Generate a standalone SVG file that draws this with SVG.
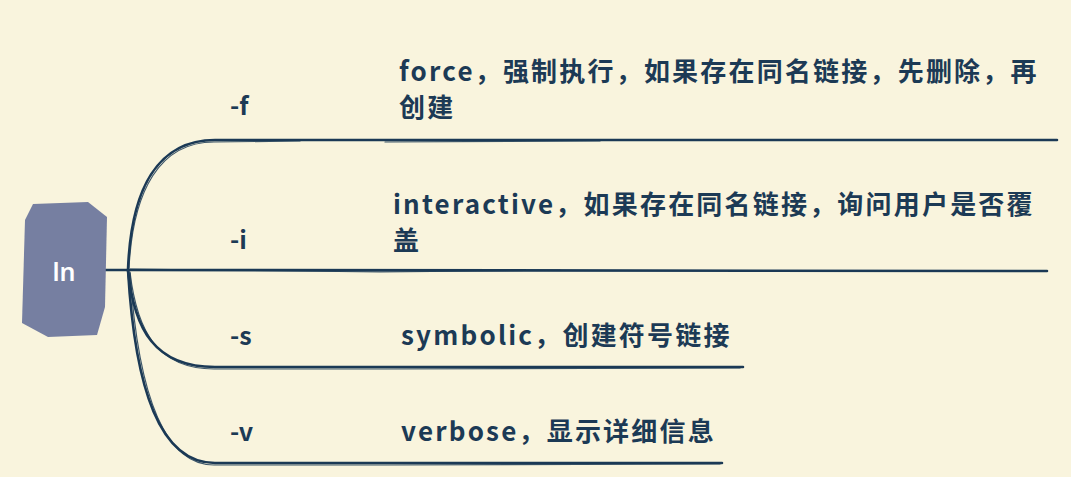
<svg xmlns="http://www.w3.org/2000/svg" width="1071" height="477" viewBox="0 0 1071 477">
<style>
.t{font-family:"Noto Sans CJK SC","Noto Sans",sans-serif;font-weight:bold;font-size:26px;fill:#1c3a55;letter-spacing:2.2px}
.k{font-family:"Noto Sans CJK SC","Noto Sans",sans-serif;font-weight:bold;font-size:25px;fill:#1c3a55}
.c{fill:none;stroke:#1b3955;stroke-linecap:round}
.a{stroke-width:2.6}
.b{stroke-width:1.2;opacity:.85}
</style>
<rect width="1071" height="477" fill="#f9f4dd"/>
<g id="connectors">
<path class="c a" d="M105,270 L128,270"/>
<path class="c a" d="M128,270 C131,188 158,140 215,140 L1057,140"/>
<path class="c b" d="M129,268 C133,190 160,142 214,142 L300,141 M385,142 L600,141"/>
<path class="c a" d="M128,270 L1047,271"/>
<path class="c b" d="M130,269 L380,272 L560,270"/>
<path class="c a" d="M128,270 C134,330 155,367 215,367 L743,367"/>
<path class="c b" d="M130,272 C137,332 158,369 214,369 L385,369 L740,368"/>
<path class="c a" d="M128,270 C135,390 160,463 215,463 L722,463"/>
<path class="c b" d="M130,273 C138,392 163,465 214,465 L385,465 L720,464"/>
</g>
<g id="root">
<polygon points="33,204 88,202 107,217 105,307 97,335 48,337 22,323 25,220" fill="#767fa1"/>
<text x="64" y="281" text-anchor="middle" style="font-family:'Noto Sans','Noto Sans CJK SC',sans-serif;font-size:25px;font-weight:600;fill:#ffffff">ln</text>
</g>
<g id="opt-f"><text class="k" x="230" y="115">-f</text></g>
<g id="opt-i"><text class="k" x="230" y="249">-i</text></g>
<g id="opt-s"><text class="k" x="230" y="345">-s</text></g>
<g id="opt-v"><text class="k" x="230" y="441">-v</text></g>
<g id="desc-f">
<text class="t" x="399" y="81">force，强制执行，如果存在同名链接，先删除，再</text>
<text class="t" x="399" y="117">创建</text>
</g>
<g id="desc-i">
<text class="t" x="393" y="214">interactive，如果存在同名链接，询问用户是否覆</text>
<text class="t" x="393" y="250">盖</text>
</g>
<g id="desc-s"><text class="t" x="401" y="345">symbolic，创建符号链接</text></g>
<g id="desc-v"><text class="t" x="401" y="441">verbose，显示详细信息</text></g>
</svg>
